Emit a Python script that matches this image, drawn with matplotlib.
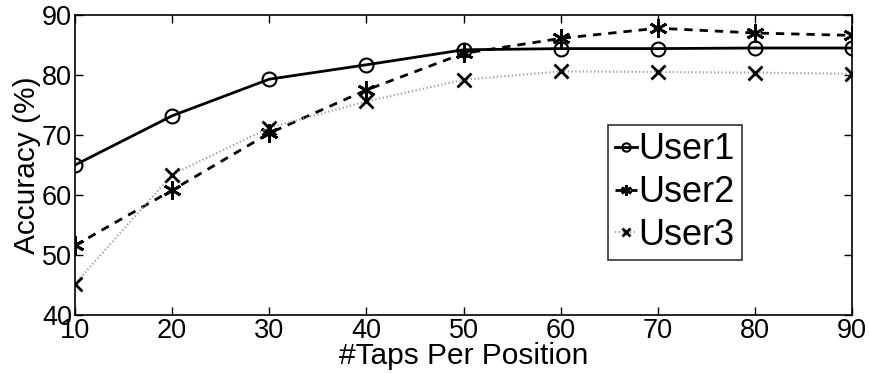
import matplotlib
matplotlib.use("Agg")
import matplotlib.pyplot as plt

plt.rcParams['font.family'] = ['Liberation Sans', 'DejaVu Sans']

taps = [10, 20, 30, 40, 50, 60, 70, 80, 90]
user1 = [65.0, 73.2, 79.3, 81.7, 84.2, 84.4, 84.4, 84.5, 84.5]
user2 = [51.6, 60.8, 70.3, 77.5, 83.6, 86.1, 87.8, 87.0, 86.6]
user3 = [45.2, 63.4, 71.2, 75.6, 79.2, 80.6, 80.5, 80.4, 80.2]

fig = plt.figure(figsize=(8.69, 3.73), dpi=100)
ax = fig.add_axes([75 / 869, 58 / 373, 777 / 869, 300 / 373])

ax.plot(taps, user1, color='black', linestyle='-', linewidth=2,
        marker='o', markersize=10, markerfacecolor='none',
        markeredgewidth=1.5, label='User1')
ax.plot(taps, user2, color='black', linestyle=(0, (3, 2.5)), linewidth=2,
        marker=(6, 2, 0), markersize=13, markeredgewidth=2, label='User2')
ax.plot(taps, user3, color='#999999', linestyle=(0, (0.6, 1.2)), linewidth=1.5,
        marker='x', markersize=10, markeredgewidth=2,
        markeredgecolor='black', label='User3')

ax.set_xlim(10, 90)
ax.set_ylim(40, 90)
ax.set_xticks(taps)
ax.set_yticks([40, 50, 60, 70, 80, 90])
ax.tick_params(direction='in', length=6, width=1, labelsize=19.5,
               top=True, right=True, pad=2)
for s in ax.spines.values():
    s.set_linewidth(1.2)

ax.set_xlabel('#Taps Per Position', fontsize=21.5, labelpad=-1)
ax.set_ylabel('Accuracy (%)', fontsize=21.5, labelpad=1)

leg = ax.legend(loc='upper left', bbox_to_anchor=((608 - 75) / 777, (315 - 125) / 300),
                fontsize=26, frameon=True, fancybox=False, edgecolor='black',
                handlelength=0.6, handletextpad=0.05, borderpad=0.2,
                labelspacing=0.22, borderaxespad=0, markerscale=0.6)
leg.get_frame().set_linewidth(1.2)

fig.savefig('out.png', dpi=100)
